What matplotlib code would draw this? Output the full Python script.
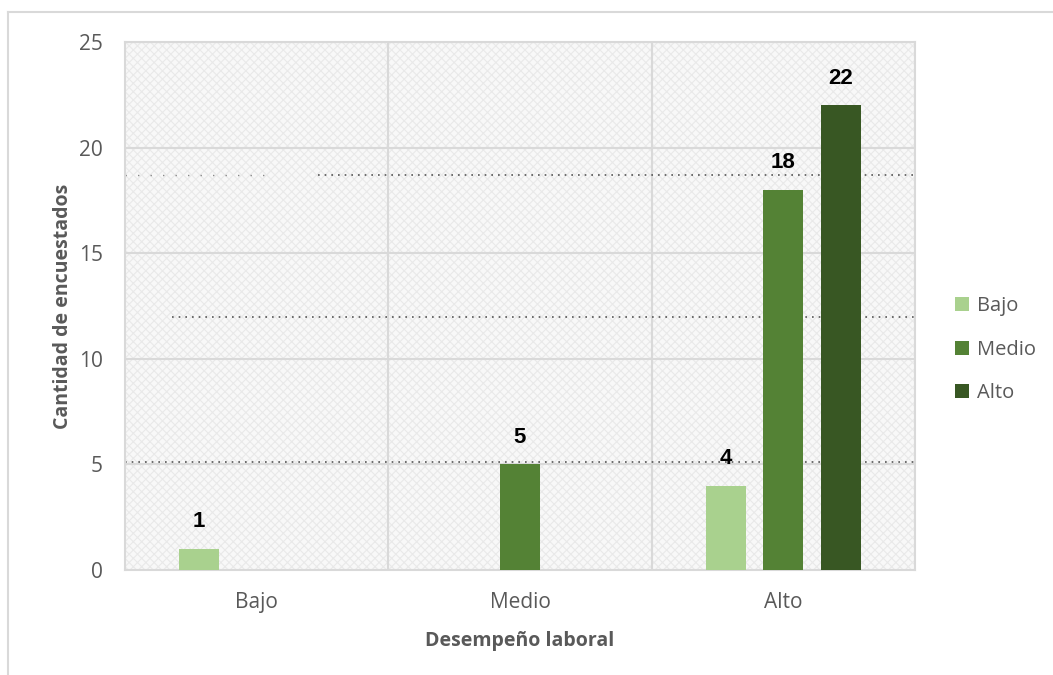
import numpy as np
import matplotlib
matplotlib.use("Agg")
import matplotlib.pyplot as plt
from matplotlib.lines import Line2D

# datos
categorias = ["Bajo", "Medio", "Alto"]
series = ["Bajo", "Medio", "Alto"]
valores_bajo = [1, 0, 4]
valores_medio = [0, 5, 18]
valores_alto = [0, 0, 22]
y_ticks = [0, 5, 10, 15, 20, 25]

colores = ["#a9d18e", "#548235", "#385723"]
gris = "#595959"
gris_linea = "#d9d9d9"

plt.rcParams["font.family"] = ["Open Sans", "DejaVu Sans"]

fig = plt.figure(figsize=(10.53, 6.75), dpi=100)
ax = fig.add_axes([125 / 1053, 105 / 675, 790 / 1053, 528 / 675])

# textura de fondo
ax.set_facecolor("#f8f8f8")
plt.rcParams["hatch.color"] = "#e9e9e9"
plt.rcParams["hatch.linewidth"] = 0.8
ax.add_patch(plt.Rectangle((0, 0), 1, 1, transform=ax.transAxes, facecolor="none",
                           hatch="xxxx", edgecolor="#e9e9e9", linewidth=0, zorder=0))

x = np.arange(len(categorias))
slot = 57.5 / 263
ancho = 40 / 263

todos = [valores_bajo, valores_medio, valores_alto]
for i, (nombre, vals) in enumerate(zip(series, todos)):
    pos = x + (i - 1) * slot
    barras = ax.bar(pos, vals, width=ancho, color=colores[i], label=nombre, zorder=3)
    for b, v in zip(barras, vals):
        if v > 0:
            ax.annotate(str(v), (b.get_x() + b.get_width() / 2, v), xytext=(0, 12),
                        textcoords="offset points", ha="center", va="bottom",
                        fontsize=16, fontweight="bold", family="Liberation Sans",
                        color="black", zorder=5)

# lineas punteadas del escaneo
ax.axhline(5.1, color="#555555", linestyle=(0, (1, 3)), linewidth=1.2, zorder=2)
ax.axhline(12, xmin=47 / 790, color="#555555", linestyle=(0, (1, 3)), linewidth=1.2, zorder=2)
ax.axhline(18.7, xmin=193 / 790, color="#555555", linestyle=(0, (1, 3)), linewidth=1.2, zorder=2)
ax.axhline(18.7, xmax=145 / 790, color="#888888", linestyle=(0, (1, 8)), linewidth=1.0, zorder=2)

ax.set_xlim(-0.5, 2.5)
ax.set_ylim(0, 25)
ax.set_yticks(y_ticks)
ax.set_xticks(x)
ax.set_xticklabels(categorias)

for yv in y_ticks[1:]:
    ax.axhline(yv, color=gris_linea, linewidth=1.5, zorder=1)
for xv in [0.5, 1.5]:
    ax.axvline(xv, color=gris_linea, linewidth=1.5, zorder=1)

for s in ax.spines.values():
    s.set_color(gris_linea)
    s.set_linewidth(1.5)

ax.tick_params(axis="y", length=0, pad=16, labelsize=15, labelcolor=gris)
ax.tick_params(axis="x", length=0, pad=16, labelsize=15, labelcolor=gris)

ax.set_ylabel("Cantidad de encuestados", fontsize=14, fontweight="bold", color=gris, labelpad=4)
ax.set_xlabel("Desempeño laboral", fontsize=14, fontweight="bold", color=gris, labelpad=13)

fig.legend(loc="center left", bbox_to_anchor=(955 / 1053, 0.482), frameon=False,
           fontsize=14.5, labelcolor=gris, handlelength=0.7, handleheight=0.7,
           handletextpad=0.4, labelspacing=1.15, borderpad=0, borderaxespad=0)

# marco exterior
fig.add_artist(Line2D([8 / 1053, 1.0], [1 - 12 / 675, 1 - 12 / 675], color=gris_linea, linewidth=1.5))
fig.add_artist(Line2D([8 / 1053, 8 / 1053], [0, 1 - 12 / 675], color=gris_linea, linewidth=1.5))

fig.savefig("out.png", dpi=100)
